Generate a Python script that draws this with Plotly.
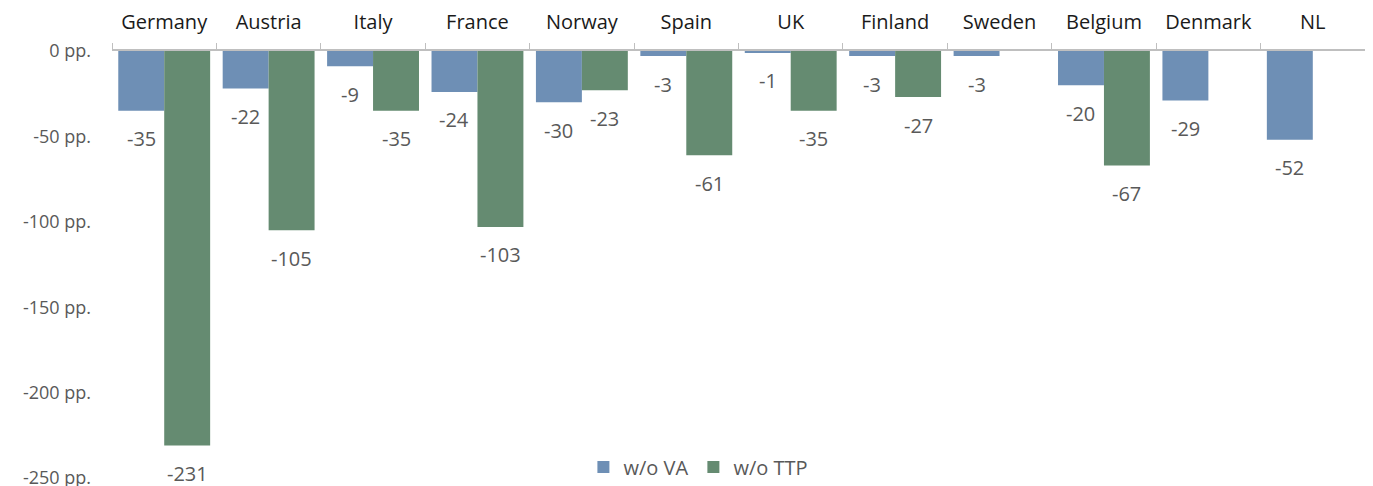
import plotly.graph_objects as go

countries = ["Germany", "Austria", "Italy", "France", "Norway", "Spain", "UK",
             "Finland", "Sweden", "Belgium", "Denmark", "NL"]
wo_va = [-35, -22, -9, -24, -30, -3, -1, -3, -3, -20, -29, -52]
wo_ttp = [-231, -105, -35, -103, -23, -61, -35, -27, None, -67, None, None]
ytick_vals = [0, -50, -100, -150, -200, -250]
ytick_text = ["0 pp.", "-50 pp.", "-100 pp.", "-150 pp.", "-200 pp.", "-250 pp."]

BLUE = "#6E8FB5"
GREEN = "#658B71"
FONT = "Open Sans"
LABEL_COLOR = "#595959"

fig = go.Figure()
fig.add_trace(go.Bar(x=countries, y=wo_va, name="w/o VA", marker_color=BLUE,
                     marker_line_width=0))
fig.add_trace(go.Bar(x=countries, y=wo_ttp, name="w/o TTP", marker_color=GREEN,
                     marker_line_width=0))

annotations = []
for series, xs in ((wo_va, -23), (wo_ttp, 23)):
    for c, v in zip(countries, series):
        if v is None:
            continue
        annotations.append(dict(
            x=c, y=v, xref="x", yref="y", text=str(v), showarrow=False,
            xshift=xs, yshift=-28, yanchor="middle",
            font=dict(family=FONT, size=20, color=LABEL_COLOR),
        ))

# page body has an 8px default margin; offsets below compensate for it
fig.update_layout(
    width=1357, height=486,
    margin=dict(l=104, r=0, t=43, b=16),
    paper_bgcolor="white", plot_bgcolor="white",
    barmode="group", bargap=0.12, bargroupgap=0.0,
    font=dict(family=FONT, color=LABEL_COLOR),
    annotations=annotations,
    showlegend=True,
    legend=dict(orientation="h", x=0.468, xanchor="center", y=0.026, yanchor="middle",
                font=dict(family=FONT, size=20, color=LABEL_COLOR),
                bgcolor="rgba(0,0,0,0)", itemwidth=30, traceorder="normal"),
    xaxis=dict(
        side="top", showline=True, linecolor="#BFBFBF", linewidth=1.5,
        ticks="outside", tickson="boundaries", ticklen=6, tickcolor="#BFBFBF",
        tickfont=dict(family=FONT, size=20, color="#1a1a1a"),
        ticklabelstandoff=12, showgrid=False, zeroline=False, automargin=False,
    ),
    yaxis=dict(
        range=[-250, 0], tickvals=ytick_vals, ticktext=ytick_text,
        tickfont=dict(family=FONT, size=18, color=LABEL_COLOR),
        showgrid=False, zeroline=False, showline=False, ticks="",
        ticklabelstandoff=20, automargin=False, ticklabeloverflow="allow",
    ),
)

fig.write_html("out.html")
